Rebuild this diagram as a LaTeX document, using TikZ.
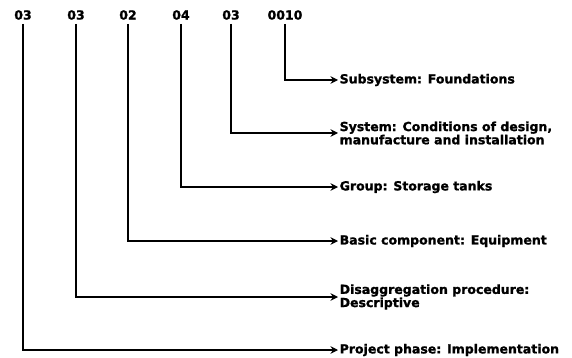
\documentclass[tikz,border=0pt]{standalone}
\usepackage{fontspec}
\setmainfont{DejaVu Sans}[BoldFeatures={FakeBold=1.3}]
\usetikzlibrary{arrows.meta}

\begin{document}
\begin{tikzpicture}[
  x=1pt, y=-1pt,
  codeno/.style={font=\fontsize{12.5}{12}\selectfont\bfseries, inner sep=4pt},
  lbl/.style={anchor=west, align=left, inner sep=1.5pt,
              font=\fontsize{12.5}{11.5}\selectfont\bfseries},
  arr/.style={-{Stealth[length=7.5pt, width=7.5pt, inset=2.5pt]}, line width=1.6pt}
]
\useasboundingbox (0,0) rectangle (572,358);
% code digits along the top
\node[codeno] (c1) at (23,15)  {03};
\node[codeno] (c2) at (76,15)  {03};
\node[codeno] (c3) at (128,15) {02};
\node[codeno] (c4) at (181,15) {04};
\node[codeno] (c5) at (231,15) {03};
\node[codeno] (c6) at (285,15) {0010};
% meaning of each part
\node[lbl] (l6) at (338,80)  {Subsystem: Foundations};
\node[lbl] (l5) at (338,133) {System: Conditions of design,\\manufacture and installation};
\node[lbl] (l4) at (338,187) {Group: Storage tanks};
\node[lbl] (l3) at (338,241) {Basic component: Equipment};
\node[lbl] (l2) at (338,297) {Disaggregation procedure:\\Descriptive};
\node[lbl] (l1) at (338,350) {Project phase: Implementation};
\draw[arr] (c6.south) |- (l6.west);
\draw[arr] (c5.south) |- (l5.west);
\draw[arr] (c4.south) |- (l4.west);
\draw[arr] (c3.south) |- (l3.west);
\draw[arr] (c2.south) |- (l2.west);
\draw[arr] (c1.south) |- (l1.west);
\end{tikzpicture}
\end{document}
